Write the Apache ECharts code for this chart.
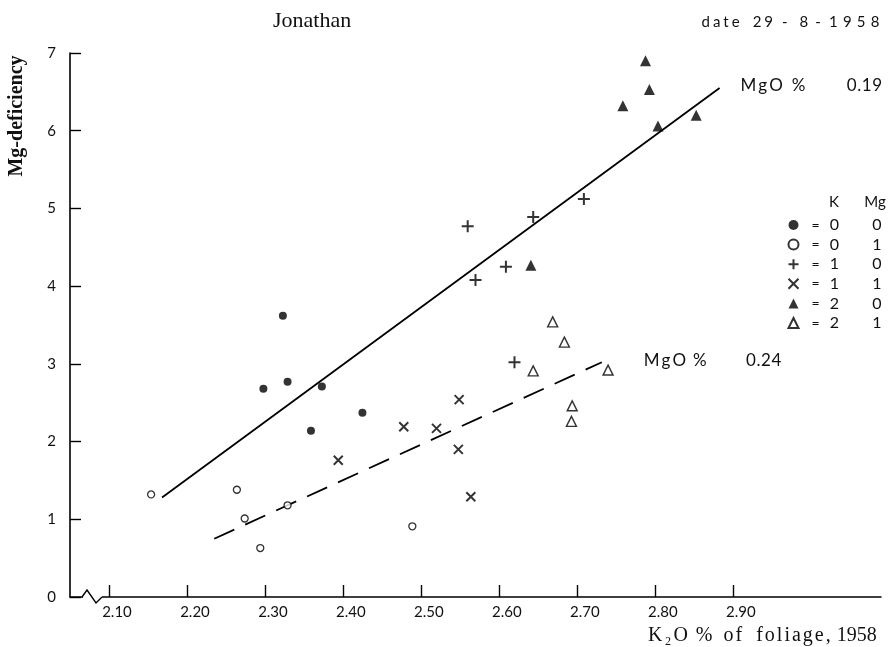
<!DOCTYPE html>
<html>
<head>
<meta charset="utf-8">
<script src="https://cdn.jsdelivr.net/npm/echarts@6/dist/echarts.min.js"></script>
<style>
  html, body { margin: 0; padding: 0; background: #fff; }
  #chart { width: 889px; height: 647px; }
</style>
</head>
<body>
<div id="chart"></div>
<script>
// Mg-deficiency against K2O % of foliage, Jonathan, 29-8-1958

const xTicks = [2.1, 2.2, 2.3, 2.4, 2.5, 2.6, 2.7, 2.8, 2.9];

// one array per K / Mg treatment: [K2O %, Mg-deficiency]
const k0mg0 = [[2.323, 3.62], [2.298, 2.68], [2.329, 2.77], [2.373, 2.71], [2.359, 2.14], [2.425, 2.37]];
const k0mg1 = [[2.154, 1.32], [2.264, 1.38], [2.274, 1.01], [2.329, 1.18], [2.294, 0.63], [2.489, 0.91]];
const k1mg0 = [[2.560, 4.77], [2.644, 4.89], [2.709, 5.12], [2.609, 4.25], [2.570, 4.08], [2.620, 3.02]];
const k1mg1 = [[2.394, 1.76], [2.478, 2.19], [2.520, 2.17], [2.549, 2.54], [2.548, 1.90], [2.564, 1.29]];
const k2mg0 = [[2.788, 6.90], [2.793, 6.53], [2.759, 6.32], [2.804, 6.06], [2.853, 6.20], [2.641, 4.27]];
const k2mg1 = [[2.669, 3.54], [2.684, 3.28], [2.644, 2.91], [2.740, 2.92], [2.694, 2.46], [2.693, 2.26]];

const groupNames = ['k0mg0', 'k0mg1', 'k1mg0', 'k1mg1', 'k2mg0', 'k2mg1'];
const groupData = [k0mg0, k0mg1, k1mg0, k1mg1, k2mg0, k2mg1];
const kLevel = ['0', '0', '1', '1', '2', '2'];
const mgLevel = ['0', '1', '0', '1', '0', '1'];

// fitted lines
const fitMg019 = [[2.168, 1.28], [2.883, 6.55]];
const fitMg024 = [[2.235, 0.75], [2.732, 3.02]];
const fitValues = ['0.19', '0.24'];

const ink = '#111';
const sans = 'Lato, "Noto Sans", sans-serif';
const serif = '"Liberation Serif", "DejaVu Serif", serif';

// the print is letter-spaced: one rich token per character, padded, plus fixed word gaps
function spacedWords(words, pads, gaps, base) {
  const rich = {};
  let text = '';
  words.forEach((w, i) => {
    const cs = 'c' + i;
    rich[cs] = Object.assign({}, base, { padding: [0, pads[i], 0, pads[i]] });
    text += Array.from(w).map((ch) => '{' + cs + '|' + ch + '}').join('');
    if (i < gaps.length) {
      rich['g' + i] = Object.assign({}, base, { width: gaps[i] });
      text += '{g' + i + '|\u00a0}';
    }
  });
  return { text: text, rich: rich };
}

const markers = [
  { symbol: 'circle', symbolSize: 8, itemStyle: { color: '#000' } },
  { symbol: 'circle', symbolSize: 7, itemStyle: { color: '#fff', borderColor: '#000', borderWidth: 1.3 } },
  { symbol: 'path://M0,6H12M6,0V12', symbolSize: 12, itemStyle: { color: 'none', borderColor: '#000', borderWidth: 2 } },
  { symbol: 'path://M0,0L10,10M10,0L0,10', symbolSize: 9, itemStyle: { color: 'none', borderColor: '#000', borderWidth: 2 } },
  { symbol: 'triangle', symbolSize: 11, itemStyle: { color: '#000' } },
  { symbol: 'triangle', symbolSize: 10, itemStyle: { color: '#fff', borderColor: '#000', borderWidth: 1.4 } },
];

const scatterSeries = groupNames.map((name, i) => ({
  name: name,
  type: 'scatter',
  data: groupData[i],
  symbol: markers[i].symbol,
  symbolSize: markers[i].symbolSize,
  itemStyle: markers[i].itemStyle,
  silent: true,
  z: 3,
}));

const fits = [fitMg019, fitMg024];
const fitSeries = fits.map((pts, i) => ({
  name: 'fit' + i,
  type: 'line',
  symbol: 'none',
  silent: true,
  lineStyle: { color: '#000', width: 1.8, type: i === 0 ? 'solid' : [22, 12] },
  data: pts,
}));

const chart = echarts.init(document.getElementById('chart'));

chart.setOption({
  animation: false,
  backgroundColor: '#fff',
  grid: { left: 70, right: 8, top: 53, bottom: 50 },
  xAxis: {
    type: 'value',
    min: 2.05,
    max: 3.09,
    axisLine: { show: true, onZero: false, lineStyle: { color: '#000', width: 1.5 } },
    axisTick: { show: true, inside: true, length: 12, customValues: xTicks, lineStyle: { color: '#000', width: 1.4 } },
    axisLabel: {
      customValues: xTicks,
      formatter: (v) => v.toFixed(2),
      margin: 8,
      padding: [0, 0, 0, 16],
      fontFamily: sans,
      fontSize: 15,
      color: ink,
    },
    splitLine: { show: false },
  },
  yAxis: {
    type: 'value',
    min: 0,
    max: 7,
    interval: 1,
    axisLine: { show: true, lineStyle: { color: '#000', width: 1.6 } },
    axisTick: { show: true, inside: true, length: 11, lineStyle: { color: '#000', width: 1.4 } },
    axisLabel: { margin: 14, fontFamily: sans, fontSize: 15, color: ink },
    splitLine: { show: false },
  },
  legend: {
    orient: 'vertical',
    left: 781,
    top: 212,
    itemWidth: 10,
    itemHeight: 10,
    itemGap: 3.6,
    selectedMode: false,
    data: groupNames,
    formatter: (name) => {
      const i = groupNames.indexOf(name);
      return '{eq|=}{k|' + kLevel[i] + '}{m|' + mgLevel[i] + '}';
    },
    textStyle: {
      fontFamily: sans,
      fontSize: 16,
      color: ink,
      lineHeight: 16,
      rich: {
        eq: { width: 24, align: 'center', fontFamily: sans, fontSize: 14, lineHeight: 16 },
        k: { width: 14, align: 'center', fontFamily: sans, fontSize: 16, lineHeight: 16 },
        m: { width: 40, align: 'right', fontFamily: sans, fontSize: 16, lineHeight: 16 },
      },
    },
  },
  series: scatterSeries.concat(fitSeries),
});

// texts, fit-line labels and the axis break need pixel positions from the grid
const origin = chart.convertToPixel({ gridIndex: 0 }, [2.05, 0]);
const fitEnds = fits.map((pts) => chart.convertToPixel({ gridIndex: 0 }, pts[pts.length - 1]));
const fitGap = [20, 41];
const fitWordGaps = [[7, 40], [5, 38]];

const dateText = spacedWords(['date', '29', '-', '8', '-', '1958'], [1.5, 1.5, 1.5, 1.5, 1.5, 2.6], [10, 6, 9, 4, 4],
  { fontFamily: sans, fontSize: 15, fill: ink });
const xTitle = spacedWords(['K\u2082O', '%', 'of', 'foliage,', '1958'], [1, 1, 1, 1, 0], [6, 9, 12, 5],
  { fontFamily: serif, fontSize: 20, fill: ink });

chart.setOption({
  graphic: [
    { id: 'title', type: 'text', left: 273, top: 10, style: { text: 'Jonathan', font: '22px ' + serif, fill: ink } },
    { id: 'date', type: 'text', x: 700, y: 22, style: { text: dateText.text, rich: dateText.rich, verticalAlign: 'middle' } },
    {
      id: 'ytitle', type: 'text', x: 17, y: 116, rotation: Math.PI / 2,
      style: { text: 'Mg-deficiency', font: 'bold 20px ' + serif, fill: ink, align: 'center', verticalAlign: 'middle' },
    },
    { id: 'xtitle', type: 'text', x: 647, y: 636, style: { text: xTitle.text, rich: xTitle.rich, verticalAlign: 'middle' } },
    { id: 'headK', type: 'text', x: 834, y: 202, style: { text: 'K', font: '15px ' + sans, fill: ink, align: 'center', verticalAlign: 'middle' } },
    { id: 'headMg', type: 'text', x: 875, y: 202, style: { text: 'Mg', font: '15px ' + sans, fill: ink, align: 'center', verticalAlign: 'middle' } },
  ].concat(fits.map((pts, i) => {
    const t = spacedWords(['MgO', '%', fitValues[i]], [1, 1, 0.3], fitWordGaps[i], { fontFamily: sans, fontSize: 17, fill: ink });
    return {
      id: 'fitlabel' + i,
      type: 'text',
      x: fitEnds[i][0] + fitGap[i],
      y: fitEnds[i][1] - 2,
      style: { text: t.text, rich: t.rich, verticalAlign: 'middle' },
    };
  })).concat([
    { id: 'breakMask', type: 'rect', z: 10, shape: { x: origin[0] + 13, y: origin[1] - 3, width: 19, height: 6 }, style: { fill: '#fff' } },
    {
      id: 'breakLine', type: 'polyline', z: 11,
      shape: { points: [[origin[0] + 12, origin[1]], [origin[0] + 17, origin[1] - 7], [origin[0] + 26, origin[1] + 6], [origin[0] + 32, origin[1]]] },
      style: { stroke: '#000', lineWidth: 1.4, fill: 'none' },
    },
  ]),
});
</script>
</body>
</html>
